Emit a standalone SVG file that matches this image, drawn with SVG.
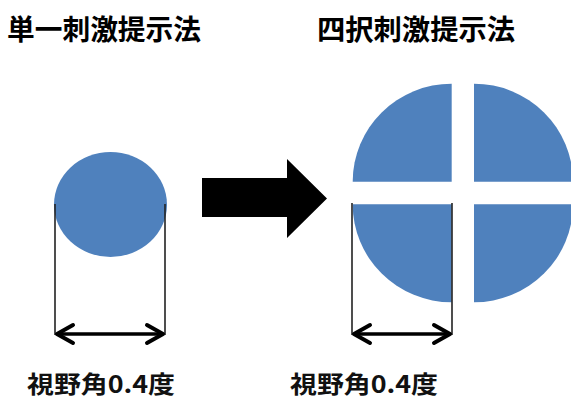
<svg xmlns="http://www.w3.org/2000/svg" width="571" height="399" viewBox="0 0 571 399">
  <style>
    .title { font-family: "Noto Sans CJK JP", "Noto Sans CJK SC", sans-serif; font-weight: bold; font-size: 28px; fill: #000; }
    .label { font-family: "Noto Sans CJK JP", "Noto Sans CJK SC", sans-serif; font-weight: bold; font-size: 24px; fill: #111; }
    .blue { fill: #4F81BD; }
    .guide { stroke: #222; stroke-width: 1.6; fill: none; }
    .dim { stroke: #000; stroke-width: 3.5; fill: none; }
    .head { stroke: #000; stroke-width: 4; fill: none; stroke-linecap: round; stroke-linejoin: round; }
  </style>
  <rect width="571" height="399" fill="#fff"/>
  <g id="title-single"><text class="title" x="7" y="40" textLength="194" lengthAdjust="spacingAndGlyphs">単一刺激提示法</text></g>
  <g id="title-four"><text class="title" x="317" y="40" textLength="198" lengthAdjust="spacingAndGlyphs">四択刺激提示法</text></g>

  <g id="single-stimulus">
    <ellipse class="blue" cx="110.5" cy="204.5" rx="56.5" ry="52.5"/>
  </g>

  <g id="four-stimulus">
    <path class="blue" d="M451.7,181.7 L352.7,181.7 A99,98 0 0 1 451.7,83.7 Z"/>
    <path class="blue" d="M474,181.7 L474,83.7 A99,98 0 0 1 573,181.7 Z"/>
    <path class="blue" d="M451.7,204.3 L451.7,302.3 A99,98 0 0 1 352.7,204.3 Z"/>
    <path class="blue" d="M474,204.3 L573,204.3 A99,98 0 0 1 474,302.3 Z"/>
  </g>

  <g id="big-arrow">
    <polygon points="202,178 287,178 287,159 327,198.5 287,238 287,217 202,217" fill="#000"/>
  </g>

  <g id="connectors">
    <line class="guide" x1="55" y1="204" x2="55" y2="335"/>
    <line class="guide" x1="165" y1="204" x2="165" y2="335"/>
    <line class="dim" x1="57" y1="334" x2="163" y2="334"/>
    <polyline class="head" points="73,325 57,334 73,343"/>
    <polyline class="head" points="147,325 163,334 147,343"/>

    <line class="guide" x1="352" y1="203" x2="352" y2="335"/>
    <line class="guide" x1="452" y1="203" x2="452" y2="335"/>
    <line class="dim" x1="354" y1="334" x2="450" y2="334"/>
    <polyline class="head" points="370,325 354,334 370,343"/>
    <polyline class="head" points="434,325 450,334 434,343"/>
  </g>

  <g id="label-single"><text class="label" x="27" y="393" textLength="148" lengthAdjust="spacingAndGlyphs">視野角0.4度</text></g>
  <g id="label-four"><text class="label" x="290" y="393" textLength="148" lengthAdjust="spacingAndGlyphs">視野角0.4度</text></g>
</svg>
